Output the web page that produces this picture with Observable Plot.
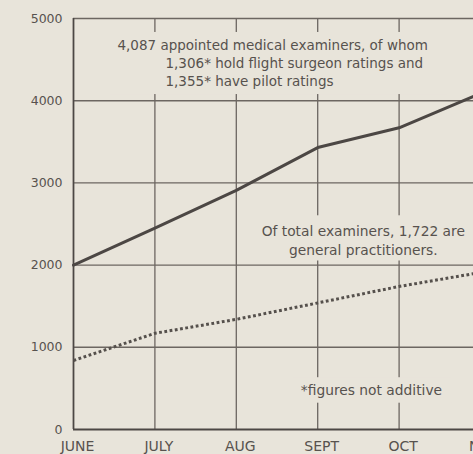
<!DOCTYPE html>
<html>
<head>
<meta charset="utf-8">
<script src="https://cdn.jsdelivr.net/npm/d3@7"></script>
<script src="https://cdn.jsdelivr.net/npm/@observablehq/plot@0.6"></script>
<style>
  html, body { margin: 0; padding: 0; background: #e8e4da; overflow: hidden; }
  #chart { width: 473px; height: 454px; }
</style>
</head>
<body>
<div id="chart"></div>
<script>
// ---- data ----
const months = ["JUNE", "JULY", "AUG", "SEPT", "OCT", "NOV"];
const totalExaminers = [2000, 2450, 2910, 3430, 3670, 4087];
const generalPractitioners = [840, 1170, 1340, 1540, 1740, 1910];
const yTicks = [0, 1000, 2000, 3000, 4000, 5000];

// annotations (anchored in data units: x = month index, y = count)
const notesLeft = [
  {text: "4,087 appointed medical examiners, of whom", x: 0.54, y: 4672},
  {text: "1,306* hold flight surgeon ratings and", x: 1.13, y: 4455},
  {text: "1,355* have pilot ratings", x: 1.13, y: 4235}
];
const notesCentered = [
  {text: "Of total examiners, 1,722 are", x: 3.56, y: 2410},
  {text: "general practitioners.", x: 3.56, y: 2180},
  {text: "*figures not additive", x: 3.66, y: 474}
];
const noteMasks = [
  {x1: 0.45, x2: 4.6, y1: 4075, y2: 4830},
  {x1: 2.2, x2: 5.2, y1: 2050, y2: 2600},
  {x1: 2.7, x2: 4.65, y1: 320, y2: 630}
];

const bg = "#e8e4da";
const ink = "#4c4744";
const textInk = "#57524e";
const gridInk = "#6c6661";
const font = "'DejaVu Sans', sans-serif";

const idx = months.map((m, i) => i);
const totalData = idx.map(i => ({i, v: totalExaminers[i]}));
const gpData = idx.map(i => ({i, v: generalPractitioners[i]}));

const chart = Plot.plot({
  width: 473,
  height: 454,
  marginLeft: 73,
  marginRight: -7,
  marginTop: 18,
  marginBottom: 25,
  style: {background: "transparent", fontFamily: font, color: ink, overflow: "hidden"},
  x: {domain: [0, months.length - 1], range: [73, 480]},
  y: {domain: [0, 5000], range: [429, 18]},
  marks: [
    Plot.ruleX(idx, {x: d => d, y1: 0, y2: 5000, stroke: gridInk, strokeWidth: 1.3}),
    Plot.ruleY(yTicks.filter(t => t > 0), {y: d => d, stroke: gridInk, strokeWidth: 1.4}),
    Plot.ruleY([0], {stroke: ink, strokeWidth: 2.2}),
    Plot.ruleX([0], {y1: 0, y2: 5000, stroke: ink, strokeWidth: 1.6}),
    Plot.rect(noteMasks, {x1: "x1", x2: "x2", y1: "y1", y2: "y2", fill: bg}),
    Plot.lineY(gpData, {x: "i", y: "v", stroke: "#55504c", strokeWidth: 3, strokeDasharray: "2.8 2.5", strokeLinecap: "butt"}),
    Plot.lineY(totalData, {x: "i", y: "v", stroke: ink, strokeWidth: 3}),
    Plot.axisY({ticks: yTicks, tickFormat: d => String(d), tickSize: 0, tickPadding: 11, fontSize: 12.5, fill: textInk, label: null}),
    Plot.axisX({ticks: idx, tickFormat: i => months[i], tickSize: 0, tickPadding: 12, dx: 4, fontSize: 14, fill: textInk, label: null}),
    Plot.text(notesLeft, {text: "text", x: "x", y: "y", textAnchor: "start", fontSize: 13.5, fill: textInk}),
    Plot.text(notesCentered, {text: "text", x: "x", y: "y", textAnchor: "middle", fontSize: 13.8, fill: textInk})
  ]
});
document.getElementById("chart").appendChild(chart);
</script>
</body>
</html>
